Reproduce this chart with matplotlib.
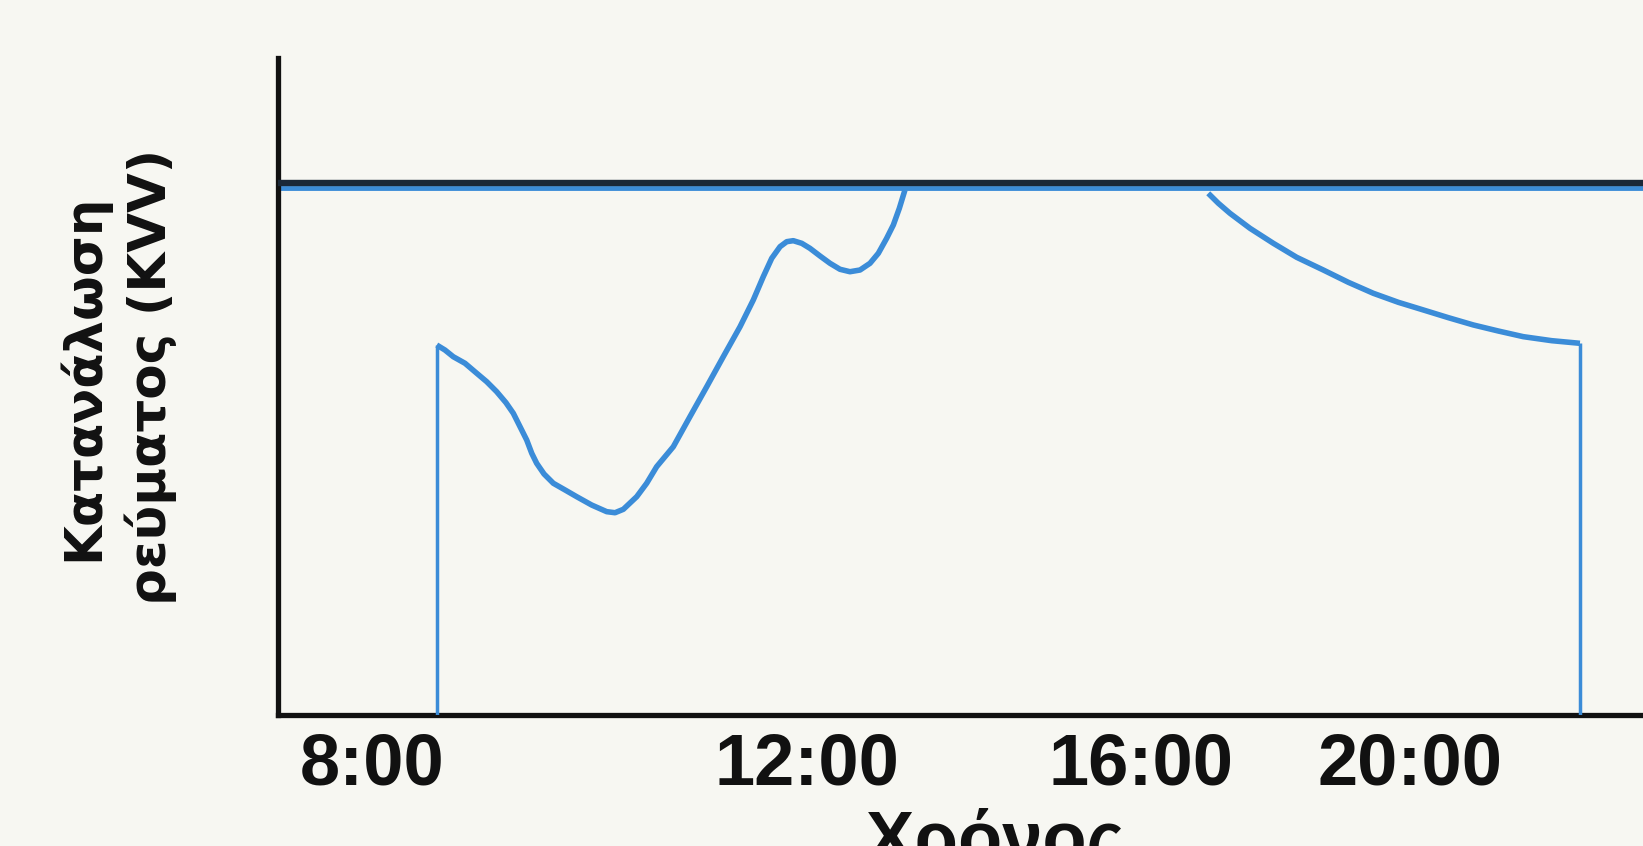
import matplotlib
matplotlib.use("Agg")
import matplotlib.pyplot as plt

# ---- data (positions in chart units: x 0..100 across plot, y 0..100 up the axis) ----
tick_pos = [6.89, 38.75, 63.22, 82.93]
tick_labels = ["8:00", "12:00", "16:00", "20:00"]

max_level = 80.6  # horizontal limit line

morning_x = [11.63, 12.23, 12.84, 13.70, 14.56, 15.29, 16.02, 16.70, 17.24, 17.73,
             18.22, 18.59, 18.95, 19.49, 20.17, 21.03, 21.88, 22.98, 24.08, 24.69,
             25.30, 26.28, 27.01, 27.74, 28.96, 30.18, 31.41, 32.62, 33.85, 34.82,
             35.55, 36.17, 36.78, 37.27, 37.75, 38.37, 38.97, 39.71, 40.44, 41.17,
             41.90, 42.64, 43.37, 43.98, 44.59, 45.08, 45.52, 45.93]
morning_y = [56.28, 55.52, 54.50, 53.50, 51.98, 50.70, 49.18, 47.51, 45.89, 43.86,
             41.83, 39.81, 38.29, 36.66, 35.25, 34.23, 33.21, 31.94, 30.93, 30.77,
             31.29, 33.21, 35.25, 37.77, 40.81, 45.38, 49.94, 54.50, 59.07, 63.13,
             66.67, 69.47, 71.24, 72.00, 72.15, 71.75, 70.99, 69.82, 68.71, 67.80,
             67.43, 67.69, 68.71, 70.23, 72.51, 74.54, 77.08, 79.86]

evening_x = [68.15, 68.89, 69.74, 71.21, 72.92, 74.63, 76.58, 78.41, 80.24, 82.07,
             83.91, 85.74, 87.57, 89.40, 91.23, 93.31, 95.38]
evening_y = [79.36, 77.84, 76.32, 74.03, 71.75, 69.62, 67.69, 65.82, 64.15, 62.78,
             61.61, 60.44, 59.33, 58.41, 57.55, 56.94, 56.54]

xlabel = "Χρόνος"
ylabel_1 = "Κατανάλωση"
ylabel_2 = "ρεύματος (KVV)"

# ---- styling ----
bg = "#f7f7f2"
blue = "#3b8cd8"
navy = "#1a2838"
ink = "#111111"

W, H = 1643, 846
fig = plt.figure(figsize=(W / 100, H / 100), dpi=100, facecolor=bg)
ax = fig.add_axes([278 / W, (H - 715) / H, (W - 278) / W, (715 - 57.6) / H])
ax.set_facecolor(bg)
ax.set_xlim(0, 100)
ax.set_ylim(0, 100)

# limit line (blue underneath, navy on top)
ax.axhline(max_level - 0.5, color=blue, lw=3.5, zorder=2)
ax.axhline(max_level + 0.25, color=navy, lw=4.6, zorder=3)

# curves
ax.plot(morning_x, morning_y, color=blue, lw=4.0, solid_joinstyle="round",
        solid_capstyle="butt", zorder=4)
ax.plot(evening_x, evening_y, color=blue, lw=4.0, solid_joinstyle="round",
        solid_capstyle="butt", zorder=4)
ax.vlines([morning_x[0]], 0, morning_y[0], color=blue, lw=2.5, zorder=4)
ax.vlines([evening_x[-1]], 0, evening_y[-1], color=blue, lw=2.5, zorder=4)

# spines
for s in ["top", "right"]:
    ax.spines[s].set_visible(False)
for s in ["left", "bottom"]:
    ax.spines[s].set_linewidth(3.8)
    ax.spines[s].set_color(ink)
    ax.spines[s].set_capstyle("projecting")

ax.set_yticks([])
ax.set_xticks(tick_pos, tick_labels)
ax.tick_params(axis="x", length=0, pad=12)
for lab in ax.get_xticklabels():
    lab.set_fontfamily("Liberation Sans")
    lab.set_fontweight("bold")
    lab.set_fontsize(52)
    lab.set_color(ink)

fig.text(995 / W, (H - 862) / H, xlabel, ha="center", va="baseline",
         fontsize=52, fontweight="bold", family="Liberation Sans", color=ink)

fig.text(98 / W, 1 - 377 / H, ylabel_1, rotation=90, rotation_mode="anchor",
         ha="center", va="baseline", fontsize=37, fontweight="bold",
         family="DejaVu Sans", color=ink)
fig.text(166 / W, 1 - 377 / H, ylabel_2, rotation=90, rotation_mode="anchor",
         ha="center", va="baseline", fontsize=37, fontweight="bold",
         family="DejaVu Sans", color=ink)

fig.savefig("out.png", dpi=100, facecolor=bg)
